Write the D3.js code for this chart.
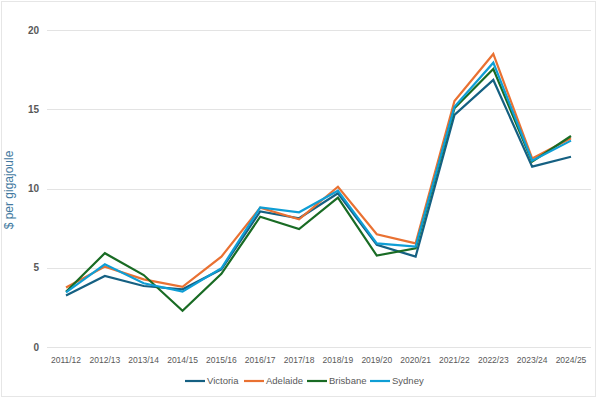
<!DOCTYPE html>
<html lang="en">
<head>
<meta charset="UTF-8">
<title>Gas prices</title>
<script src="https://d3js.org/d3.v7.min.js"></script>
<style>
    body { margin: 0; background: #fff; }
    svg text { font-family: "Liberation Sans Narrow", "Arial Narrow", "Liberation Sans", sans-serif; }
</style>
</head>
<body>
<svg id="chart" width="602" height="398"></svg>
<script>
    const years = ["2011/12", "2012/13", "2013/14", "2014/15", "2015/16", "2016/17", "2017/18",
        "2018/19", "2019/20", "2020/21", "2021/22", "2022/23", "2023/24", "2024/25"];
    const victoria = [3.25, 4.48, 3.85, 3.64, 4.9, 8.55, 8.12, 9.7, 6.45, 5.7, 14.64, 16.85, 11.38, 12.0];
    const adelaide = [3.75, 5.07, 4.27, 3.8, 5.7, 8.79, 8.06, 10.11, 7.11, 6.54, 15.52, 18.49, 11.9, 13.17];
    const brisbane = [3.48, 5.92, 4.54, 2.29, 4.62, 8.22, 7.44, 9.42, 5.77, 6.23, 15.06, 17.54, 11.69, 13.31];
    const sydney = [3.45, 5.22, 4.02, 3.49, 4.97, 8.81, 8.5, 9.86, 6.54, 6.33, 15.16, 17.94, 11.75, 13.02];
    const seriesNames = ["Victoria", "Adelaide", "Brisbane", "Sydney"];
    const yTicks = [0, 5, 10, 15, 20];

    const colors = ["#156082", "#E97132", "#196B24", "#0F9ED5"];
    const series = [victoria, adelaide, brisbane, sydney];

    const svg = d3.select("#chart");

    // chart frame
    svg.append("rect")
        .attr("x", 1.5).attr("y", 1.5)
        .attr("width", 594).attr("height", 395)
        .attr("fill", "#fff")
        .attr("stroke", "#e6e6e6");

    const x = d3.scalePoint()
        .domain(years)
        .range([66, 571]);

    const y = d3.scaleLinear()
        .domain([0, 20])
        .range([347, 30]);

    // gridlines
    svg.append("g").selectAll("line")
        .data(yTicks)
        .enter().append("line")
        .attr("x1", 47).attr("x2", 591)
        .attr("y1", d => Math.round(y(d)) + 0.5)
        .attr("y2", d => Math.round(y(d)) + 0.5)
        .attr("stroke", "#e3e3e3")
        .attr("stroke-width", 1);

    // y tick labels
    svg.append("g").selectAll("text")
        .data(yTicks)
        .enter().append("text")
        .attr("x", 39)
        .attr("y", d => y(d))
        .attr("dy", "0.35em")
        .attr("text-anchor", "end")
        .attr("font-size", 10)
        .attr("font-weight", "bold")
        .attr("fill", "#595959")
        .text(d => d);

    // x tick labels
    svg.append("g").selectAll("text")
        .data(years)
        .enter().append("text")
        .attr("x", d => x(d))
        .attr("y", 360)
        .attr("dy", "0.35em")
        .attr("text-anchor", "middle")
        .attr("font-size", 8.5)
        .attr("fill", "#595959")
        .text(d => d);

    // y axis title
    svg.append("text")
        .attr("transform", "translate(13,190) rotate(-90)")
        .attr("text-anchor", "middle")
        .attr("font-size", 12)
        .attr("fill", "#4279a0")
        .text("$ per gigajoule");

    const line = d3.line()
        .x((d, i) => x(years[i]))
        .y(d => y(d));

    svg.append("g").selectAll("path")
        .data(series)
        .enter().append("path")
        .attr("d", d => line(d))
        .attr("fill", "none")
        .attr("stroke", (d, i) => colors[i])
        .attr("stroke-width", 2.2)
        .attr("stroke-linejoin", "miter");

    // legend
    const legendX = [185, 244, 307, 370];
    const legend = svg.append("g").selectAll("g")
        .data(seriesNames)
        .enter().append("g")
        .attr("transform", (d, i) => "translate(" + legendX[i] + ",381)");
    legend.append("line")
        .attr("x1", 0).attr("x2", 20)
        .attr("stroke", (d, i) => colors[i])
        .attr("stroke-width", 2.2);
    legend.append("text")
        .attr("x", 22)
        .attr("dy", "0.35em")
        .attr("font-size", 9.5)
        .attr("fill", "#595959")
        .text(d => d);
</script>
</body>
</html>
